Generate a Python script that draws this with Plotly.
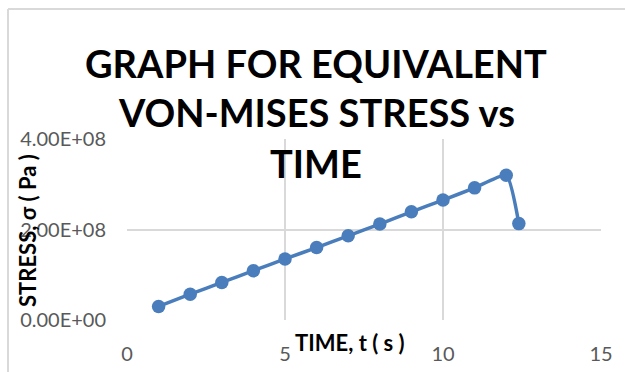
import plotly.graph_objects as go

time_s = [1, 2, 3, 4, 5, 6, 7, 8, 9, 10, 11, 12, 12.4]
stress_pa = [3.0e7, 5.7e7, 8.3e7, 1.09e8, 1.35e8, 1.60e8, 1.86e8, 2.12e8,
             2.39e8, 2.65e8, 2.92e8, 3.20e8, 2.13e8]
x_ticks = [0, 5, 10, 15]
y_ticks = [0, 2e8, 4e8]
y_tick_labels = ["0.00E+00", "2.00E+08", "4.00E+08"]

title_lines = ["GRAPH FOR EQUIVALENT", "VON-MISES STRESS vs", "TIME"]

blue = "#4a7dbb"
grid = "#d9d9d9"
tick_col = "#595959"

fig = go.Figure()
fig.add_trace(go.Scatter(
    x=time_s, y=stress_pa, mode="lines+markers",
    line=dict(color=blue, width=3.5, shape="spline", smoothing=0.5),
    marker=dict(color=blue, size=13.5),
    showlegend=False,
))

fig.update_layout(
    width=625, height=372,
    margin=dict(l=127, r=24, t=139, b=52, autoexpand=False),
    paper_bgcolor="white", plot_bgcolor="white",
    font=dict(family="Lato, Open Sans, sans-serif", color=tick_col),
    xaxis=dict(range=[0, 15], tickvals=x_ticks, showgrid=True, gridcolor=grid,
               gridwidth=2, zeroline=False, showline=False, automargin=False,
               tickfont=dict(size=20, color=tick_col), ticks="", ticklen=0,
               ticklabelstandoff=20),
    yaxis=dict(range=[0, 4e8], tickvals=y_ticks, ticktext=y_tick_labels,
               showgrid=True, gridcolor=grid, gridwidth=2, zeroline=False,
               showline=False, automargin=False,
               tickfont=dict(size=20, color=tick_col),
               ticks="", ticklen=0, ticklabelstandoff=20),
)

# x axis title (overlaps tick labels like the reference)
fig.add_annotation(text="<b>TIME, t ( s )</b>", xref="paper", yref="paper",
                   x=(350 - 127) / 474, y=-(342 - 320) / 181, showarrow=False,
                   font=dict(size=22, color="black", family="Lato, sans-serif"),
                   xanchor="center", yanchor="middle")
# y axis title
fig.add_annotation(text="<b>STRESS, σ ( Pa )</b>", xref="paper", yref="paper",
                   x=(27 - 127) / 474, y=(320 - 231) / 181, showarrow=False,
                   textangle=-90,
                   font=dict(size=22, color="black", family="Lato, sans-serif"),
                   xanchor="center", yanchor="middle")
# title lines
for line, ypix in zip(title_lines, [63, 112, 163]):
    fig.add_annotation(text="<b>" + line + "</b>", xref="paper", yref="paper",
                       x=(316 - 127) / 474, y=(320 - ypix) / 181, showarrow=False,
                       font=dict(size=38, color="black", family="Lato, sans-serif"),
                       xanchor="center", yanchor="middle")

# chart frame (top and left edges visible)
fig.add_shape(type="line", xref="paper", yref="paper",
              x0=(8 - 127) / 474, x1=(640 - 127) / 474,
              y0=(320 - 9) / 181, y1=(320 - 9) / 181,
              line=dict(color=grid, width=2))
fig.add_shape(type="line", xref="paper", yref="paper",
              x0=(8 - 127) / 474, x1=(8 - 127) / 474,
              y0=(320 - 9) / 181, y1=(320 - 380) / 181,
              line=dict(color=grid, width=2))

fig.write_html("out.html")
